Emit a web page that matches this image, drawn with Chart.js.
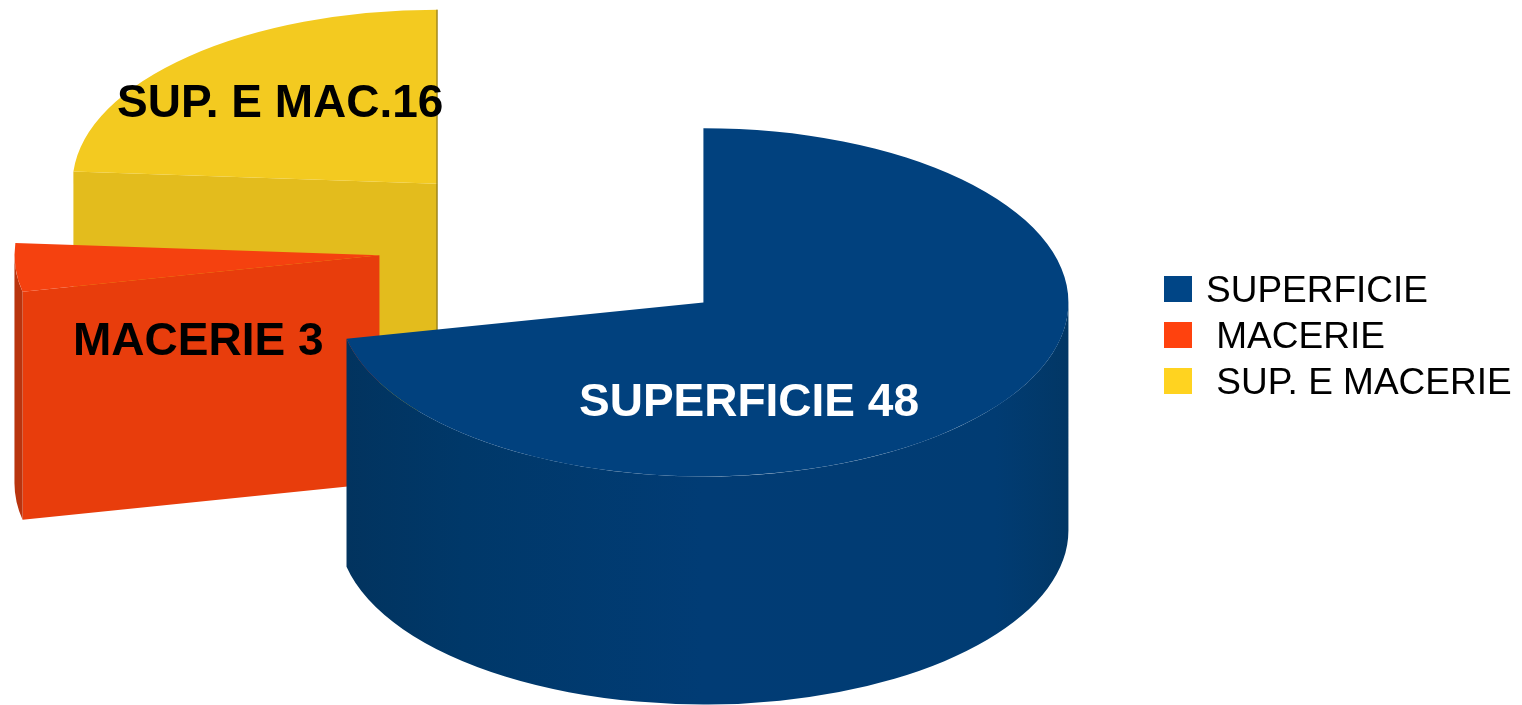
<!DOCTYPE html>
<html>
<head>
<meta charset="utf-8">
<style>
    html, body { margin: 0; padding: 0; background: #fff; overflow: hidden; }
    #wrap { width: 1522px; height: 705px; }
</style>
</head>
<body>
<div id="wrap"><canvas id="myChart"></canvas></div>
<script src="https://cdn.jsdelivr.net/npm/chart.js@4"></script>
<script>
const categorie = ['SUPERFICIE', ' MACERIE', ' SUP. E MACERIE'];
const valori = [48, 3, 16];
const etichette = ['SUPERFICIE 48', 'MACERIE 3', 'SUP. E MAC.16'];

const coloriLegenda = ['#004586', '#ff420e', '#ffd320'];
const coloriSopra = ['#01417e', '#f5410f', '#f3ca20'];
const coloriTaglio = ['#013c73', '#e83d0c', '#e3bc1d'];
const coloriParete = [
    [[0, '#02335e'], [0.17, '#003869'], [0.5, '#013c75'], [0.9, '#013c73'], [1, '#023765']],
    [[0, '#b9340e'], [1, '#b9340e']],
    [[0, '#d0aa18'], [1, '#d0aa18']]
];

// distance of each slice from the centre, before squashing
const esplosione = [178, 186, 187];
const schiacciamento = 0.477;
const spessore = 228;

function punto(c, a, d) {
    return [c.x + Math.cos(a) * c.rx, c.y + Math.sin(a) * c.ry + d];
}

function taglio(ctx, c, a, colore) {
    const p = punto(c, a, 0);
    ctx.fillStyle = colore;
    ctx.beginPath();
    ctx.moveTo(c.x, c.y);
    ctx.lineTo(p[0], p[1]);
    ctx.lineTo(p[0], p[1] + spessore);
    ctx.lineTo(c.x, c.y + spessore);
    ctx.closePath();
    ctx.fill();
}

function parete(ctx, c, inizio, fine, stops) {
    const a = Math.max(inizio, 0);
    const b = Math.min(fine, Math.PI);
    if (b <= a) return;
    const grad = ctx.createLinearGradient(c.x - c.rx, 0, c.x + c.rx, 0);
    stops.forEach(s => grad.addColorStop(s[0], s[1]));
    ctx.fillStyle = grad;
    ctx.beginPath();
    ctx.ellipse(c.x, c.y, c.rx, c.ry, 0, a, b);
    ctx.ellipse(c.x, c.y + spessore, c.rx, c.ry, 0, b, a, true);
    ctx.closePath();
    ctx.fill();
}

const torta3d = {
    id: 'torta3d',
    beforeDatasetsDraw(chart) {
        const ctx = chart.ctx;
        const arcs = chart.getDatasetMeta(0).data;
        // back slices first, the big one covers the others
        [2, 1, 0].forEach(i => {
            const arc = arcs[i];
            const mid = (arc.startAngle + arc.endAngle) / 2;
            const c = {
                x: arc.x + Math.cos(mid) * esplosione[i],
                y: arc.y + Math.sin(mid) * esplosione[i] * schiacciamento,
                rx: arc.outerRadius,
                ry: arc.outerRadius * schiacciamento
            };
            if (Math.cos(arc.startAngle) < 0) taglio(ctx, c, arc.startAngle, coloriTaglio[i]);
            if (Math.cos(arc.endAngle) > 0) taglio(ctx, c, arc.endAngle, coloriTaglio[i]);
            parete(ctx, c, arc.startAngle, arc.endAngle, coloriParete[i]);

            ctx.save();
            ctx.translate(c.x, c.y);
            ctx.scale(1, schiacciamento);
            ctx.translate(-arc.x, -arc.y);
            arc.draw(ctx);
            ctx.restore();

            // thin dark edge on the right of the yellow slice
            if (i === 2) {
                const top = punto(c, arc.endAngle, 0);
                ctx.fillStyle = '#7d6a1a';
                ctx.fillRect(top[0] - 1, top[1], 1, spessore + c.ry);
            }
        });
        return false;
    },
    afterDraw(chart) {
        const ctx = chart.ctx;
        ctx.save();
        ctx.textBaseline = 'alphabetic';
        ctx.textAlign = 'left';

        ctx.font = 'bold 46px "Liberation Sans"';
        ctx.fillStyle = '#ffffff';
        ctx.fillText(etichette[0], 579, 416);
        ctx.fillStyle = '#000000';
        ctx.fillText(etichette[1], 73, 355);
        ctx.fillText(etichette[2], 117, 117);

        ctx.font = '37px "Liberation Sans"';
        categorie.forEach((nome, i) => {
            const y = 276 + i * 46;
            ctx.fillStyle = coloriLegenda[i];
            ctx.fillRect(1164, y, 28, 26);
            ctx.fillStyle = '#000000';
            ctx.fillText(nome, 1206, y + 26);
        });
        ctx.restore();
    }
};

new Chart(document.getElementById('myChart'), {
    type: 'pie',
    data: {
        labels: categorie,
        datasets: [{
            data: valori,
            backgroundColor: coloriSopra,
            borderWidth: 0
        }]
    },
    options: {
        responsive: true,
        maintainAspectRatio: false,
        animation: false,
        radius: 365,
        layout: { padding: { right: 392, bottom: 207 } },
        plugins: {
            legend: { display: false },
            tooltip: { enabled: false }
        }
    },
    plugins: [torta3d]
});
</script>
</body>
</html>
